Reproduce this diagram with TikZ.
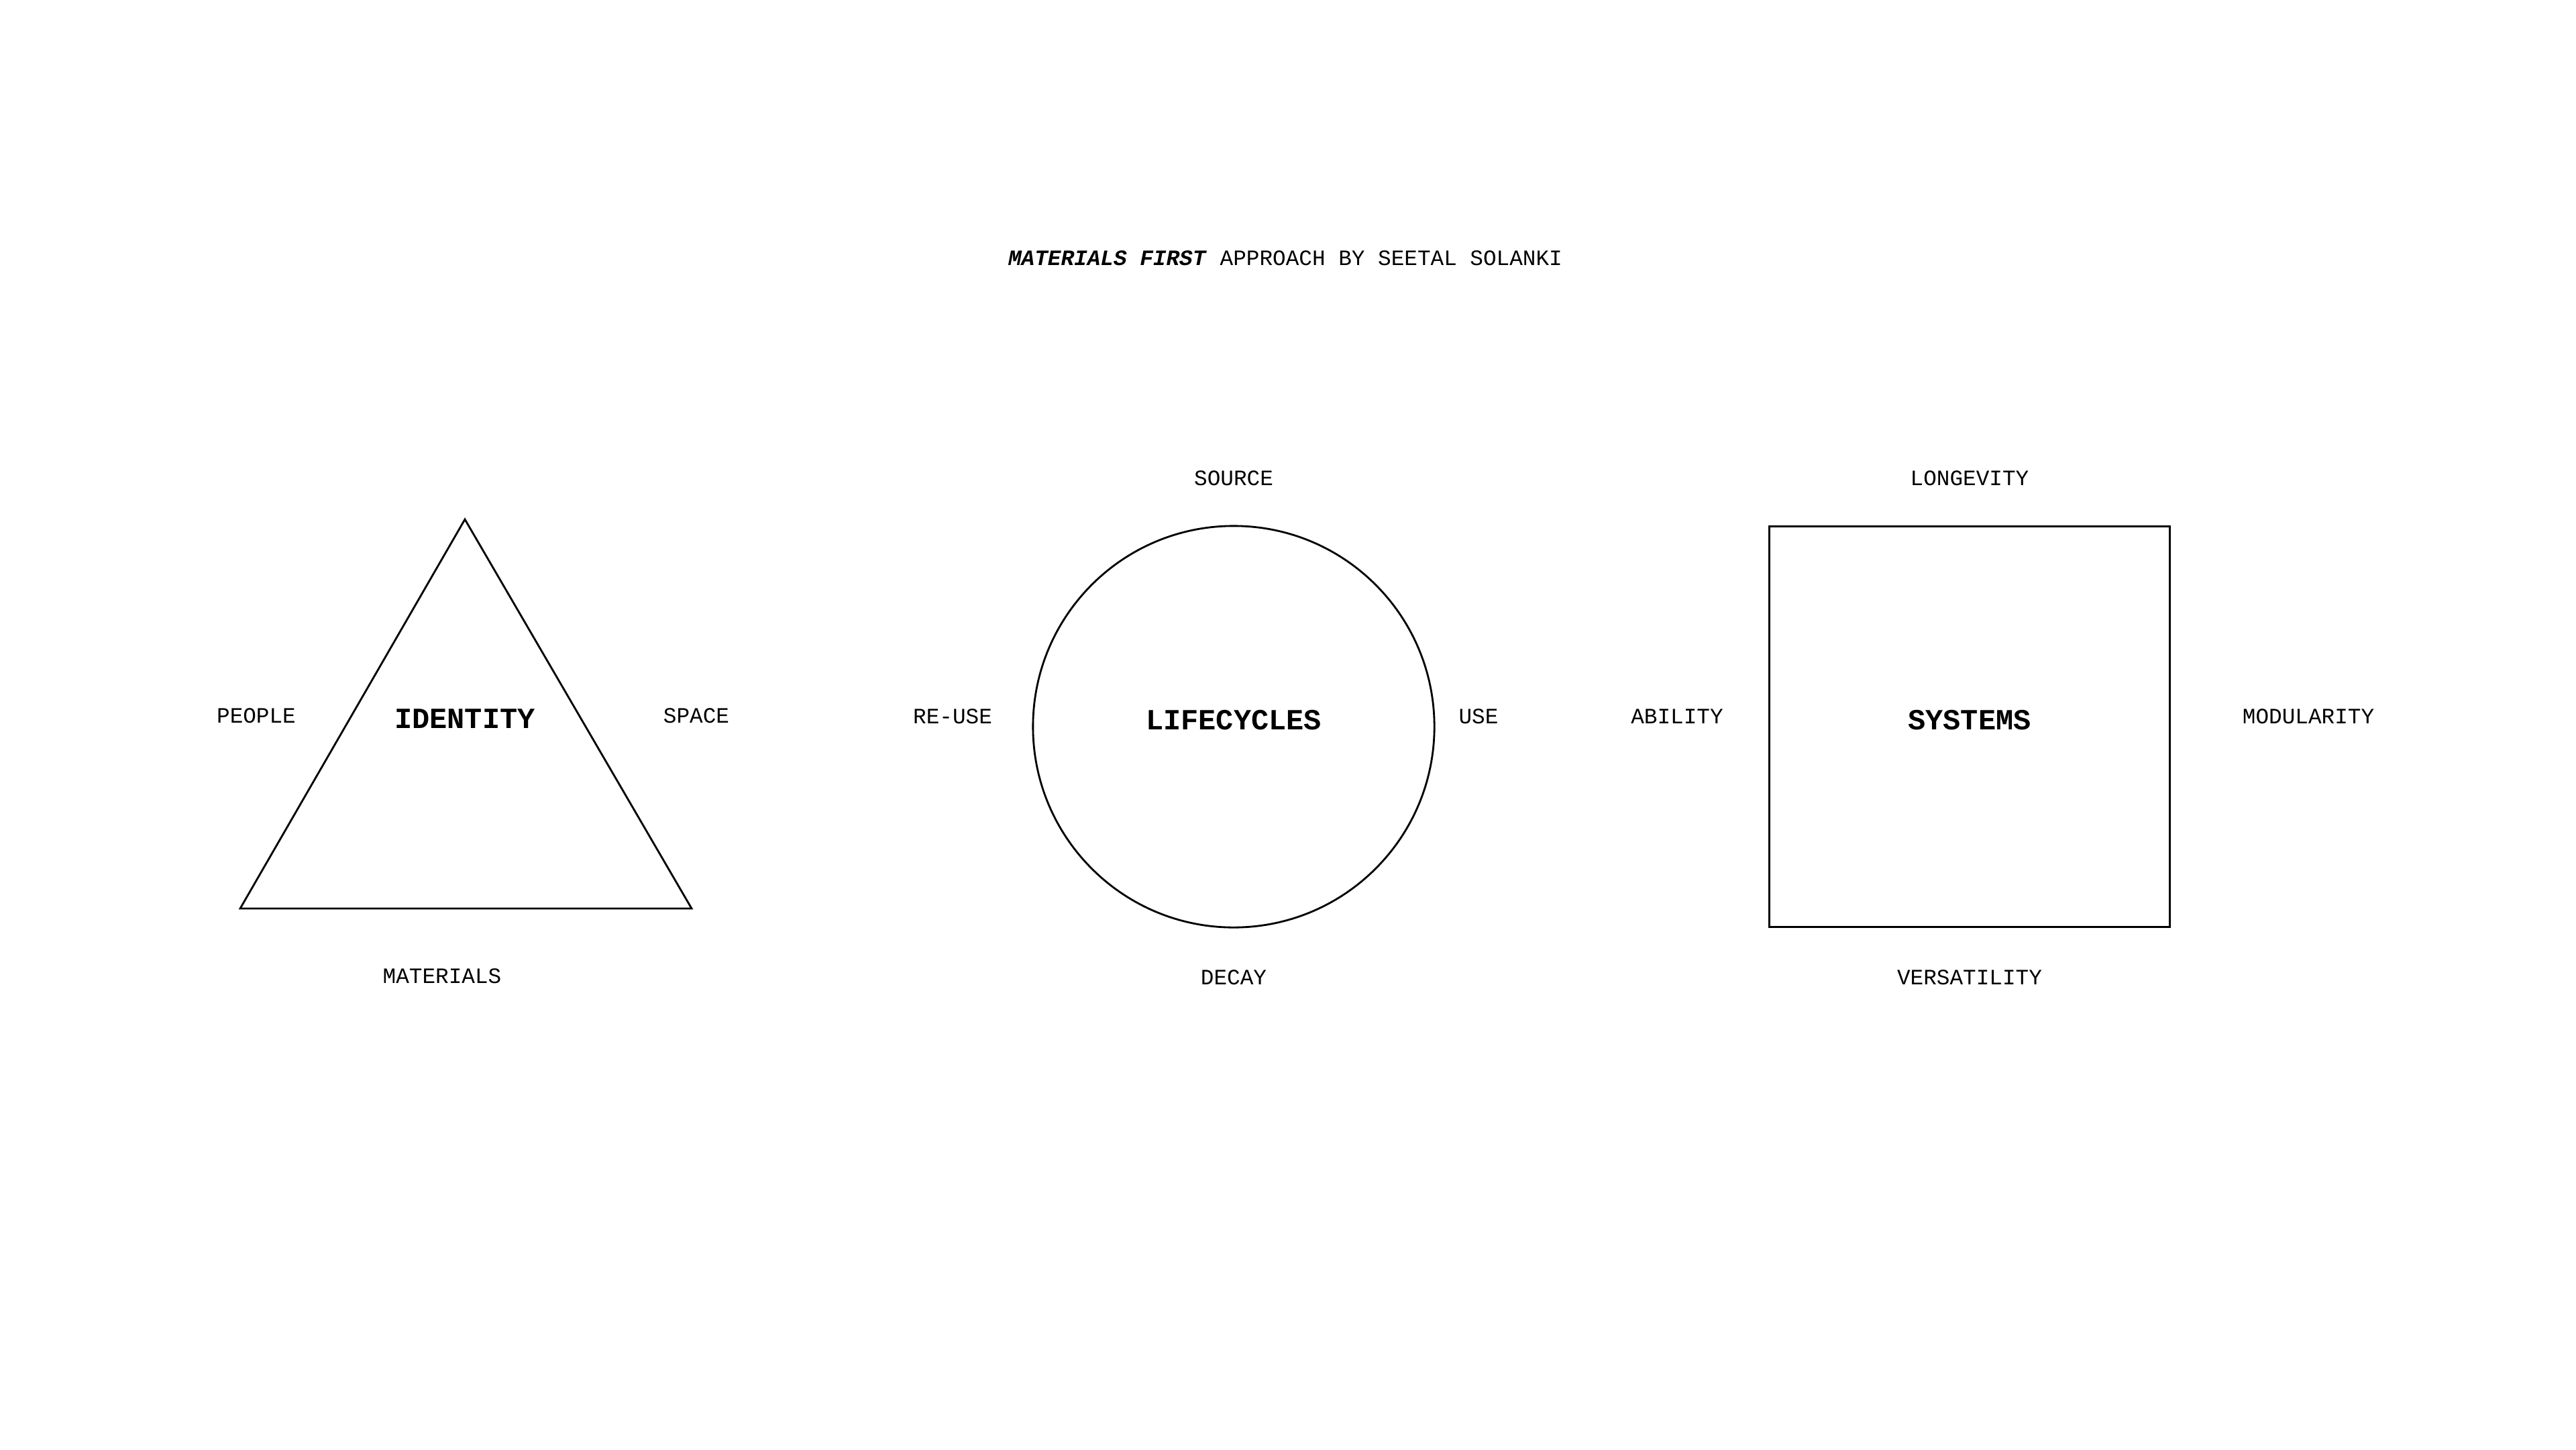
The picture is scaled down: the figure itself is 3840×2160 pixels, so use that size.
\documentclass[tikz,border=0pt]{standalone}
\usepackage{fontspec}
\setmainfont{Liberation Mono}
\begin{document}
\begin{tikzpicture}[x=0.01cm,y=-0.01cm,
  lbl/.style={font=\fontsize{9.3}{11}\selectfont, inner sep=0pt, anchor=center},
  core/.style={font=\fontsize{12.4}{14}\selectfont\bfseries, inner sep=0pt, anchor=center},
  outline/.style={draw=black, line width=0.8pt}]
\useasboundingbox (0,0) rectangle (3840,2160);
% title
\node[lbl] (title) at (1916,385) {\textbf{\textit{MATERIALS FIRST}} APPROACH BY SEETAL SOLANKI};
% triangle
\coordinate (tA) at (693,774);
\coordinate (tL) at (358,1354);
\coordinate (tR) at (1031,1354);
\draw[outline, line join=miter] (tA) -- (tL) -- (tR) -- cycle;
\node[core] (identity) at (693,1071) {IDENTITY};
\node[lbl] (people) at (382,1067) {PEOPLE};
\node[lbl] (space) at (1038,1067) {SPACE};
\node[lbl] (materials) at (659,1455) {MATERIALS};
% circle
\node[outline, circle, minimum size=5.98cm, inner sep=0pt] (lcircle) at (1839,1083) {};
\node[core] (lifecycles) at (1839,1073) {LIFECYCLES};
\node[lbl] (source) at (1839,713) {SOURCE};
\node[lbl] (reuse) at (1420,1068) {RE-USE};
\node[lbl] (use) at (2204,1068) {USE};
\node[lbl] (decay) at (1839,1457) {DECAY};
% square
\node[outline, rectangle, minimum width=5.97cm, minimum height=5.97cm, inner sep=0pt] (sq) at (2936,1083) {};
\node[core] (systems) at (2936,1073) {SYSTEMS};
\node[lbl] (longevity) at (2936,713) {LONGEVITY};
\node[lbl] (ability) at (2500,1068) {ABILITY};
\node[lbl] (modularity) at (3441,1068) {MODULARITY};
\node[lbl] (versatility) at (2936,1457) {VERSATILITY};
\end{tikzpicture}
\end{document}
